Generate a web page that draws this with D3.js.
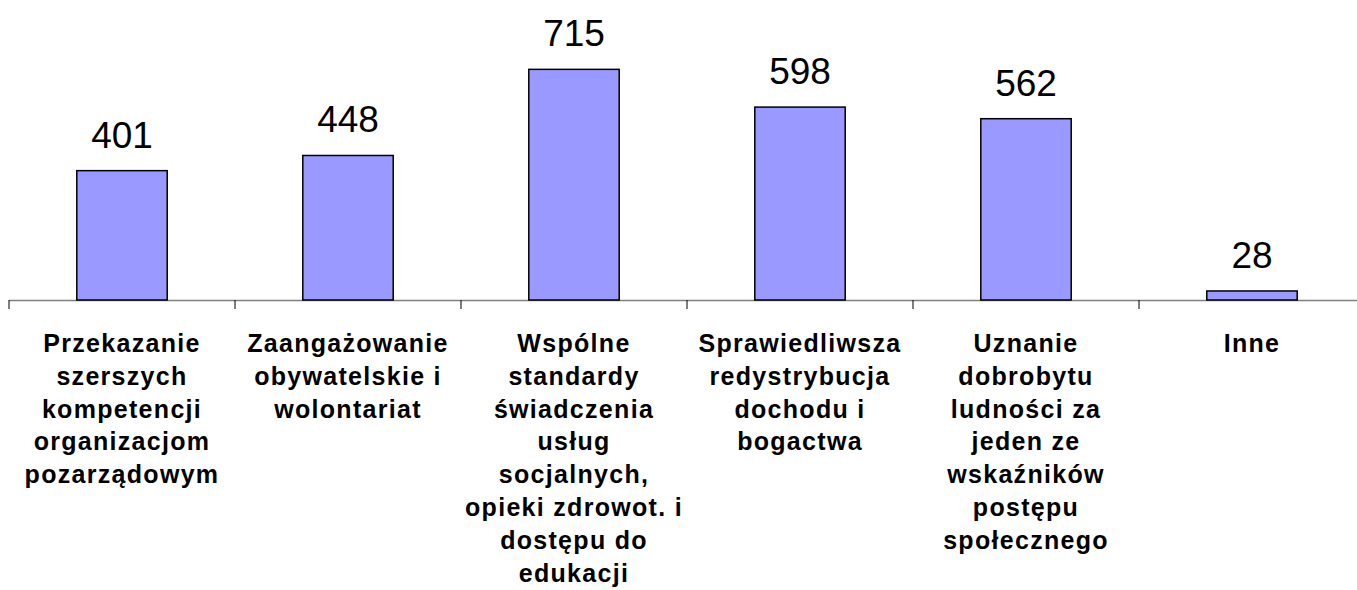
<!DOCTYPE html>
<html>
<head>
<meta charset="utf-8">
<script src="https://cdn.jsdelivr.net/npm/d3@7"></script>
<style>
  body { margin: 0; background: #fff; }
  svg { display: block; }
</style>
</head>
<body>
<svg id="chart" width="1357" height="590"></svg>
<script>
// data
var categories = [
  ["Przekazanie", "szerszych", "kompetencji", "organizacjom", "pozarządowym"],
  ["Zaangażowanie", "obywatelskie i", "wolontariat"],
  ["Wspólne", "standardy", "świadczenia", "usług", "socjalnych,", "opieki zdrowot. i", "dostępu do", "edukacji"],
  ["Sprawiedliwsza", "redystrybucja", "dochodu i", "bogactwa"],
  ["Uznanie", "dobrobytu", "ludności za", "jeden ze", "wskaźników", "postępu", "społecznego"],
  ["Inne"]
];
var values = [401, 448, 715, 598, 562, 28];

var svg = d3.select("#chart");
var baseY = 300;

var x = d3.scaleBand()
  .domain(d3.range(values.length))
  .range([9, 1365])
  .padding(0);

var y = d3.scaleLinear()
  .domain([0, 930])
  .range([baseY, 0]);

var barW = x.bandwidth() * 0.4;

// axis line
svg.append("line")
  .attr("x1", 9).attr("x2", 1357)
  .attr("y1", baseY + 0.5).attr("y2", baseY + 0.5)
  .style("stroke", "#808080")
  .style("stroke-width", 1.5);

// tick marks at category borders
var tickPos = d3.range(values.length + 1).map(function(i){ return 9 + i * x.step(); });
svg.selectAll("line.tick")
  .data(tickPos)
  .enter()
  .append("line")
  .attr("class", "tick")
  .attr("x1", d => d).attr("x2", d => d)
  .attr("y1", baseY).attr("y2", baseY + 9)
  .style("stroke", "#000")
  .style("stroke-width", 1);

// bars
svg.selectAll("rect.bar")
  .data(values)
  .enter()
  .append("rect")
  .attr("class", "bar")
  .attr("x", (d, i) => x(i) + (x.bandwidth() - barW) / 2)
  .attr("y", d => y(d))
  .attr("width", barW)
  .attr("height", d => baseY - y(d))
  .attr("fill", "#9999ff")
  .style("stroke", "#000")
  .style("stroke-width", 1.5);

// value labels
svg.selectAll("text.val")
  .data(values)
  .enter()
  .append("text")
  .attr("class", "val")
  .attr("x", (d, i) => x(i) + x.bandwidth() / 2)
  .attr("y", d => y(d) - 23)
  .attr("text-anchor", "middle")
  .style("font-family", "'Liberation Sans', Arial, sans-serif")
  .style("font-size", "37px")
  .style("fill", "#000")
  .text(d => d);

// category labels
var lbl = svg.selectAll("text.cat")
  .data(categories)
  .enter()
  .append("text")
  .attr("class", "cat")
  .attr("text-anchor", "middle")
  .style("font-family", "'Liberation Sans', Arial, sans-serif")
  .style("font-size", "25px")
  .style("font-weight", "bold")
  .style("letter-spacing", "1.3px")
  .style("fill", "#000");

lbl.each(function(lines, i){
  var cx = x(i) + x.bandwidth() / 2;
  d3.select(this).selectAll("tspan")
    .data(lines)
    .enter()
    .append("tspan")
    .attr("x", cx)
    .attr("y", (d, j) => 352 + j * 32.8)
    .text(d => d);
});
</script>
</body>
</html>
